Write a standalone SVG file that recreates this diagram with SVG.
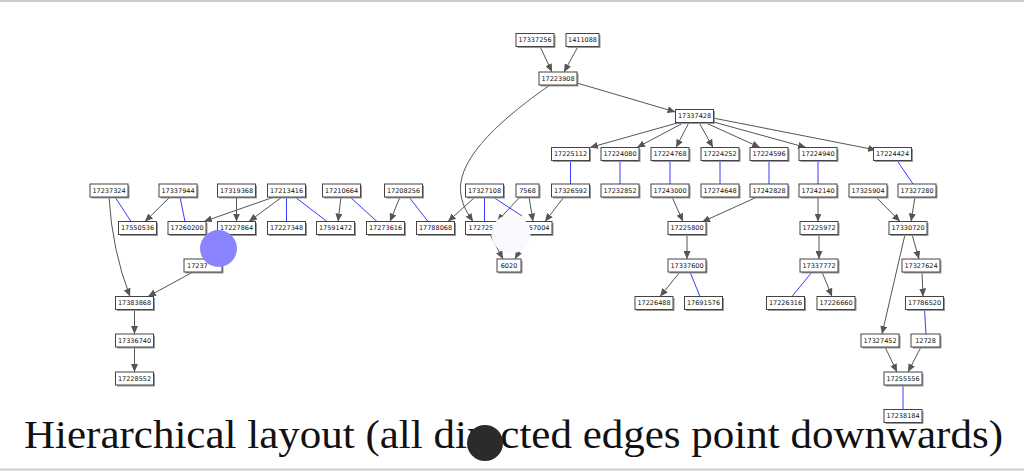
<svg xmlns="http://www.w3.org/2000/svg" width="1024" height="471" viewBox="0 0 1024 471">
<style>
.n rect.s{fill:#9a9a9a}
.n rect.b{fill:#fff;stroke:#444;stroke-width:1}
.n text{font-family:"DejaVu Sans",sans-serif;font-size:6.5px;fill:#111;text-anchor:middle}
.e path{fill:none;stroke:#555;stroke-width:1}
.e path.a{marker-end:url(#ah)}
.e path.u{stroke:#3a3aff}
.cap{font-family:"Liberation Serif",serif;font-size:39px;fill:#111}
</style>
<defs>
<marker id="ah" markerUnits="userSpaceOnUse" markerWidth="8" markerHeight="7" refX="8" refY="3.5" orient="auto"><path d="M0,0 L8,3.5 L0,7 z" fill="#555"/></marker>
</defs>
<rect width="1024" height="471" fill="#fff"/>
<line x1="0" y1="1" x2="1024" y2="1" stroke="#ccc" stroke-width="2"/>
<line x1="0" y1="469.5" x2="1024" y2="469.5" stroke="#ccc" stroke-width="2"/>
<g id="edges" class="e">
<path class="a" d="M540,46.5 L552,72"/>
<path class="a" d="M578,46.5 L564,72"/>
<path class="a" d="M577,83 L675.5,112"/>
<path class="a" d="M550,85 C500,120 455,160 461,195 C463,207 468,214 473,221.5"/>
<path class="a" d="M679,122.5 L590,147.5"/>
<path class="a" d="M684,122.5 L637,147.5"/>
<path class="a" d="M689,122.5 L676,147.5"/>
<path class="a" d="M699,122.5 L713,147.5"/>
<path class="a" d="M705,122.5 L760,147.5"/>
<path class="a" d="M710,121 L806,147.5"/>
<path class="a" d="M713,118 L876,150"/>
<path class="u" d="M570.5,160.5 V184"/>
<path class="u" d="M620,160.5 V184"/>
<path class="u" d="M670,160.5 V184"/>
<path class="u" d="M720,160.5 V184"/>
<path class="u" d="M769,160.5 V184"/>
<path class="u" d="M818,160.5 V184"/>
<path class="u" d="M897,160.5 L913,184"/>
<path class="u" d="M115,197 L131,221.5"/>
<path class="a" d="M109,197 Q112,250 130,296.5"/>
<path class="a" d="M170,197 L145,221.5"/>
<path class="u" d="M180,197 L185,221.5"/>
<path class="a" d="M236.5,197 V221.5"/>
<path class="a" d="M274,197 L204,221.5"/>
<path class="a" d="M282,197 L249,221.5"/>
<path class="u" d="M286.5,197 V221.5"/>
<path class="u" d="M295,197 L327,221.5"/>
<path class="a" d="M341,197 L338,221.5"/>
<path class="u" d="M350,197 L377,221.5"/>
<path class="a" d="M400,197 L390,221.5"/>
<path class="u" d="M409,197 L428,221.5"/>
<path class="a" d="M475,197 L448,221.5"/>
<path class="u" d="M484.5,197 V221.5"/>
<path class="u" d="M493,197 L522,216"/>
<path class="a" d="M520,197 L497,221.5"/>
<path class="a" d="M529,197 L533,221.5"/>
<path class="a" d="M564,197 L545,221.5"/>
<path class="a" d="M672,197 L683,221.5"/>
<path class="a" d="M757,197 L702,222"/>
<path class="a" d="M818,197 V221.5"/>
<path class="a" d="M876,197 L900,221.5"/>
<path class="a" d="M915,197 L911,221.5"/>
<path class="a" d="M490,234.5 L503,259"/>
<path class="a" d="M528,234.5 L515,259"/>
<path class="a" d="M687,234.5 V259"/>
<path class="a" d="M819,234.5 V259"/>
<path class="a" d="M912,234.5 L919,259"/>
<path class="a" d="M905,234.5 L882,334"/>
<path class="a" d="M193,272 L148,296.5"/>
<path class="a" d="M680,272 L660,296.5"/>
<path class="u" d="M690,272 L700,296.5"/>
<path class="u" d="M812,272 L792,296.5"/>
<path class="a" d="M822,272 L832,296.5"/>
<path class="a" d="M922,272 L923,296.5"/>
<path class="a" d="M134.5,309.5 V334"/>
<path class="a" d="M134.5,347 V372"/>
<path class="u" d="M924.5,309.5 L926,334"/>
<path class="a" d="M885,347 L897,372"/>
<path class="a" d="M921,347 L908,372"/>
<path class="u" d="M903,385 V409.5"/>
</g>
<g id="n17337256" class="n"><rect class="s" x="517.5" y="35" width="38" height="13"/><rect class="b" x="516" y="33.5" width="38" height="13"/><text x="535" y="42.3">17337256</text></g>
<g id="n1411088" class="n"><rect class="s" x="567.5" y="35" width="33" height="13"/><rect class="b" x="566" y="33.5" width="33" height="13"/><text x="582.5" y="42.3">1411088</text></g>
<g id="n17223908" class="n"><rect class="s" x="540.5" y="73.5" width="38" height="13"/><rect class="b" x="539" y="72" width="38" height="13"/><text x="558" y="80.8">17223908</text></g>
<g id="n17337428" class="n"><rect class="s" x="677" y="111" width="38" height="13"/><rect class="b" x="675.5" y="109.5" width="38" height="13"/><text x="694.5" y="118.3">17337428</text></g>
<g id="n17225112" class="n"><rect class="s" x="553" y="149" width="38" height="13"/><rect class="b" x="551.5" y="147.5" width="38" height="13"/><text x="570.5" y="156.3">17225112</text></g>
<g id="n17224080" class="n"><rect class="s" x="602.5" y="149" width="38" height="13"/><rect class="b" x="601" y="147.5" width="38" height="13"/><text x="620" y="156.3">17224080</text></g>
<g id="n17224768" class="n"><rect class="s" x="652.5" y="149" width="38" height="13"/><rect class="b" x="651" y="147.5" width="38" height="13"/><text x="670" y="156.3">17224768</text></g>
<g id="n17224252" class="n"><rect class="s" x="702.5" y="149" width="38" height="13"/><rect class="b" x="701" y="147.5" width="38" height="13"/><text x="720" y="156.3">17224252</text></g>
<g id="n17224596" class="n"><rect class="s" x="751.5" y="149" width="38" height="13"/><rect class="b" x="750" y="147.5" width="38" height="13"/><text x="769" y="156.3">17224596</text></g>
<g id="n17224940" class="n"><rect class="s" x="800.5" y="149" width="38" height="13"/><rect class="b" x="799" y="147.5" width="38" height="13"/><text x="818" y="156.3">17224940</text></g>
<g id="n17224424" class="n"><rect class="s" x="875" y="149" width="38" height="13"/><rect class="b" x="873.5" y="147.5" width="38" height="13"/><text x="892.5" y="156.3">17224424</text></g>
<g id="n17237324" class="n"><rect class="s" x="91.5" y="185.5" width="38" height="13"/><rect class="b" x="90" y="184" width="38" height="13"/><text x="109" y="192.8">17237324</text></g>
<g id="n17337944" class="n"><rect class="s" x="160.5" y="185.5" width="38" height="13"/><rect class="b" x="159" y="184" width="38" height="13"/><text x="178" y="192.8">17337944</text></g>
<g id="n17319368" class="n"><rect class="s" x="219" y="185.5" width="38" height="13"/><rect class="b" x="217.5" y="184" width="38" height="13"/><text x="236.5" y="192.8">17319368</text></g>
<g id="n17213416" class="n"><rect class="s" x="269" y="185.5" width="38" height="13"/><rect class="b" x="267.5" y="184" width="38" height="13"/><text x="286.5" y="192.8">17213416</text></g>
<g id="n17210664" class="n"><rect class="s" x="324" y="185.5" width="38" height="13"/><rect class="b" x="322.5" y="184" width="38" height="13"/><text x="341.5" y="192.8">17210664</text></g>
<g id="n17208256" class="n"><rect class="s" x="386" y="185.5" width="38" height="13"/><rect class="b" x="384.5" y="184" width="38" height="13"/><text x="403.5" y="192.8">17208256</text></g>
<g id="n17327108" class="n"><rect class="s" x="467" y="185.5" width="38" height="13"/><rect class="b" x="465.5" y="184" width="38" height="13"/><text x="484.5" y="192.8">17327108</text></g>
<g id="n7568" class="n"><rect class="s" x="517.5" y="185.5" width="23" height="13"/><rect class="b" x="516" y="184" width="23" height="13"/><text x="527.5" y="192.8">7568</text></g>
<g id="n17326592" class="n"><rect class="s" x="553" y="185.5" width="38" height="13"/><rect class="b" x="551.5" y="184" width="38" height="13"/><text x="570.5" y="192.8">17326592</text></g>
<g id="n17232852" class="n"><rect class="s" x="602.5" y="185.5" width="38" height="13"/><rect class="b" x="601" y="184" width="38" height="13"/><text x="620" y="192.8">17232852</text></g>
<g id="n17243000" class="n"><rect class="s" x="652.5" y="185.5" width="38" height="13"/><rect class="b" x="651" y="184" width="38" height="13"/><text x="670" y="192.8">17243000</text></g>
<g id="n17274648" class="n"><rect class="s" x="702.5" y="185.5" width="38" height="13"/><rect class="b" x="701" y="184" width="38" height="13"/><text x="720" y="192.8">17274648</text></g>
<g id="n17242828" class="n"><rect class="s" x="751.5" y="185.5" width="38" height="13"/><rect class="b" x="750" y="184" width="38" height="13"/><text x="769" y="192.8">17242828</text></g>
<g id="n17242140" class="n"><rect class="s" x="800.5" y="185.5" width="38" height="13"/><rect class="b" x="799" y="184" width="38" height="13"/><text x="818" y="192.8">17242140</text></g>
<g id="n17325904" class="n"><rect class="s" x="850.5" y="185.5" width="38" height="13"/><rect class="b" x="849" y="184" width="38" height="13"/><text x="868" y="192.8">17325904</text></g>
<g id="n17327280" class="n"><rect class="s" x="899.5" y="185.5" width="38" height="13"/><rect class="b" x="898" y="184" width="38" height="13"/><text x="917" y="192.8">17327280</text></g>
<g id="n17550536" class="n"><rect class="s" x="120" y="223" width="38" height="13"/><rect class="b" x="118.5" y="221.5" width="38" height="13"/><text x="137.5" y="230.3">17550536</text></g>
<g id="n17260200" class="n"><rect class="s" x="169.5" y="223" width="38" height="13"/><rect class="b" x="168" y="221.5" width="38" height="13"/><text x="187" y="230.3">17260200</text></g>
<g id="n17227864" class="n"><rect class="s" x="219" y="223" width="38" height="13"/><rect class="b" x="217.5" y="221.5" width="38" height="13"/><text x="236.5" y="230.3">17227864</text></g>
<g id="n17227348" class="n"><rect class="s" x="269" y="223" width="38" height="13"/><rect class="b" x="267.5" y="221.5" width="38" height="13"/><text x="286.5" y="230.3">17227348</text></g>
<g id="n17591472" class="n"><rect class="s" x="318" y="223" width="38" height="13"/><rect class="b" x="316.5" y="221.5" width="38" height="13"/><text x="335.5" y="230.3">17591472</text></g>
<g id="n17273616" class="n"><rect class="s" x="368" y="223" width="38" height="13"/><rect class="b" x="366.5" y="221.5" width="38" height="13"/><text x="385.5" y="230.3">17273616</text></g>
<g id="n17788068" class="n"><rect class="s" x="418" y="223" width="38" height="13"/><rect class="b" x="416.5" y="221.5" width="38" height="13"/><text x="435.5" y="230.3">17788068</text></g>
<g id="n172725" class="n"><rect class="s" x="467" y="223" width="38" height="13"/><rect class="b" x="465.5" y="221.5" width="38" height="13"/><text x="468.5" y="230.3" style="text-anchor:start">172725</text></g>
<g id="n57004" class="n"><rect class="s" x="515.5" y="223" width="38" height="13"/><rect class="b" x="514" y="221.5" width="38" height="13"/><text x="549.5" y="230.3" style="text-anchor:end">57004</text></g>
<g id="n17225800" class="n"><rect class="s" x="669.5" y="223" width="38" height="13"/><rect class="b" x="668" y="221.5" width="38" height="13"/><text x="687" y="230.3">17225800</text></g>
<g id="n17225972" class="n"><rect class="s" x="801.5" y="223" width="38" height="13"/><rect class="b" x="800" y="221.5" width="38" height="13"/><text x="819" y="230.3">17225972</text></g>
<g id="n17330720" class="n"><rect class="s" x="890.5" y="223" width="38" height="13"/><rect class="b" x="889" y="221.5" width="38" height="13"/><text x="908" y="230.3">17330720</text></g>
<g id="n1723" class="n"><rect class="s" x="185.5" y="260.5" width="38" height="13"/><rect class="b" x="184" y="259" width="38" height="13"/><text x="187" y="267.8" style="text-anchor:start">17237</text></g>
<g id="n6020" class="n"><rect class="s" x="498.5" y="260.5" width="24" height="13"/><rect class="b" x="497" y="259" width="24" height="13"/><text x="509" y="267.8">6020</text></g>
<g id="n17337600" class="n"><rect class="s" x="669.5" y="260.5" width="38" height="13"/><rect class="b" x="668" y="259" width="38" height="13"/><text x="687" y="267.8">17337600</text></g>
<g id="n17337772" class="n"><rect class="s" x="801.5" y="260.5" width="38" height="13"/><rect class="b" x="800" y="259" width="38" height="13"/><text x="819" y="267.8">17337772</text></g>
<g id="n17327624" class="n"><rect class="s" x="903.5" y="260.5" width="38" height="13"/><rect class="b" x="902" y="259" width="38" height="13"/><text x="921" y="267.8">17327624</text></g>
<g id="n17383868" class="n"><rect class="s" x="117" y="298" width="38" height="13"/><rect class="b" x="115.5" y="296.5" width="38" height="13"/><text x="134.5" y="305.3">17383868</text></g>
<g id="n17226488" class="n"><rect class="s" x="636.5" y="298" width="38" height="13"/><rect class="b" x="635" y="296.5" width="38" height="13"/><text x="654" y="305.3">17226488</text></g>
<g id="n17691576" class="n"><rect class="s" x="686" y="298" width="38" height="13"/><rect class="b" x="684.5" y="296.5" width="38" height="13"/><text x="703.5" y="305.3">17691576</text></g>
<g id="n17226316" class="n"><rect class="s" x="768" y="298" width="38" height="13"/><rect class="b" x="766.5" y="296.5" width="38" height="13"/><text x="785.5" y="305.3">17226316</text></g>
<g id="n17226660" class="n"><rect class="s" x="818.5" y="298" width="38" height="13"/><rect class="b" x="817" y="296.5" width="38" height="13"/><text x="836" y="305.3">17226660</text></g>
<g id="n17786520" class="n"><rect class="s" x="907" y="298" width="38" height="13"/><rect class="b" x="905.5" y="296.5" width="38" height="13"/><text x="924.5" y="305.3">17786520</text></g>
<g id="n17336740" class="n"><rect class="s" x="117" y="335.5" width="38" height="13"/><rect class="b" x="115.5" y="334" width="38" height="13"/><text x="134.5" y="342.8">17336740</text></g>
<g id="n17327452" class="n"><rect class="s" x="862.5" y="335.5" width="38" height="13"/><rect class="b" x="861" y="334" width="38" height="13"/><text x="880" y="342.8">17327452</text></g>
<g id="n12728" class="n"><rect class="s" x="912.5" y="335.5" width="29" height="13"/><rect class="b" x="911" y="334" width="29" height="13"/><text x="925.5" y="342.8">12728</text></g>
<g id="n17228552" class="n"><rect class="s" x="117" y="373.5" width="38" height="13"/><rect class="b" x="115.5" y="372" width="38" height="13"/><text x="134.5" y="380.8">17228552</text></g>
<g id="n17255556" class="n"><rect class="s" x="885.5" y="373.5" width="38" height="13"/><rect class="b" x="884" y="372" width="38" height="13"/><text x="903" y="380.8">17255556</text></g>
<g id="n17238184" class="n"><rect class="s" x="885.5" y="411" width="38" height="13"/><rect class="b" x="884" y="409.5" width="38" height="13"/><text x="903" y="418.3">17238184</text></g>
<text class="cap" x="24" y="448" textLength="979" lengthAdjust="spacingAndGlyphs">Hierarchical layout (all directed edges point downwards)</text>
<circle cx="218.5" cy="248.5" r="18.5" fill="#8a84ff"/>
<circle cx="511" cy="234" r="19.5" fill="#f8f9fd"/>
<circle cx="485" cy="443" r="18" fill="#2b2b2b"/>
</svg>
